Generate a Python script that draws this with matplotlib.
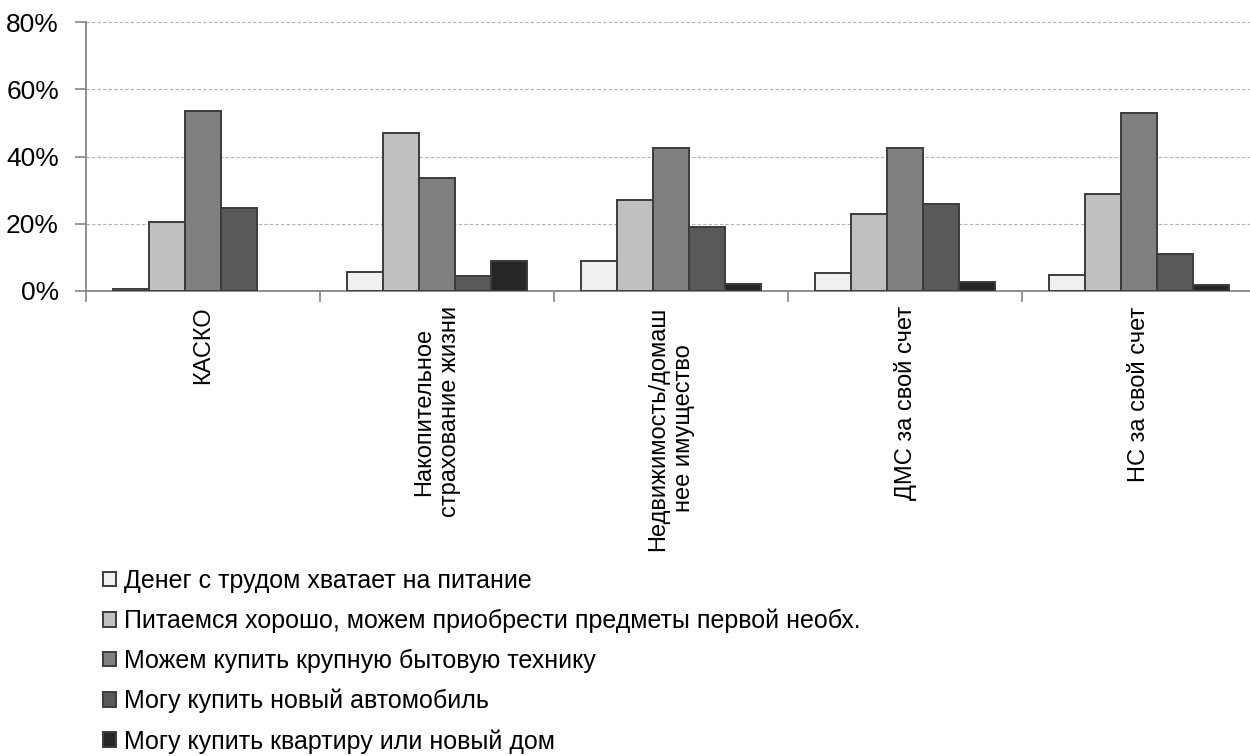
import numpy as np
import matplotlib
matplotlib.use("Agg")
import matplotlib.pyplot as plt
from matplotlib.ticker import PercentFormatter

plt.rcParams['font.family'] = ['Liberation Sans', 'DejaVu Sans']

categories = ['КАСКО', 'Накопительное\nстрахование жизни', 'Недвижимость/домаш\nнее имущество',
              'ДМС за свой счет', 'НС за свой счет']
series_names = ['Денег с трудом хватает на питание',
                'Питаемся хорошо, можем приобрести предметы первой необх.',
                'Можем купить крупную бытовую технику',
                'Могу купить новый автомобиль',
                'Могу купить квартиру или новый дом']
poor = [0.6, 5.6, 8.9, 5.4, 4.7]
food_ok = [20.6, 46.9, 27.0, 23.0, 28.7]
appliances = [53.6, 33.5, 42.4, 42.4, 53.0]
car = [24.6, 4.5, 19.0, 25.9, 11.1]
flat = [0.0, 8.9, 2.2, 2.7, 1.9]
series = [poor, food_ok, appliances, car, flat]
fills = ['#f0f0f0', '#c0c0c0', '#808080', '#595959', '#262626']

fig = plt.figure(figsize=(12.5, 7.56), dpi=100)
ax = fig.add_axes([86/1250, 1 - 291/756, 1170/1250, 269/756])

x = np.arange(len(categories))
w = 1 / 6.5
bars = []
for i, (vals, c) in enumerate(zip(series, fills)):
    b = ax.bar(x + (i - 2) * w, vals, width=w, color=c, edgecolor='#3c3c3c', linewidth=1.4, zorder=3)
    # zero-height bars are not drawn at all
    for rect, v in zip(b, vals):
        if v == 0:
            rect.set_visible(False)
    bars.append(b)

ax.set_xlim(-0.5, len(categories) - 0.5)
ax.set_ylim(0, 80)
ax.set_yticks([0, 20, 40, 60, 80])
ax.yaxis.set_major_formatter(PercentFormatter(decimals=0))
ax.grid(axis='y', color='#b0b0b0', linestyle=(0, (3, 2)), linewidth=0.8, zorder=0)

ax.set_xticks(np.arange(len(categories) + 1) - 0.5, minor=False)
ax.set_xticklabels([])
ax.set_xticks(x, minor=True)
ax.set_xticklabels(categories, minor=True, rotation=90, ha='center', va='top', fontsize=17,
                   multialignment='center')
ax.tick_params(axis='x', which='minor', length=0, pad=11)
ax.tick_params(axis='x', which='major', length=8, color='#868686', width=1.2)
ax.tick_params(axis='y', length=8, color='#868686', width=1.2, labelsize=19, pad=11.5)

for s in ['top', 'right']:
    ax.spines[s].set_visible(False)
for s in ['left', 'bottom']:
    ax.spines[s].set_color('#868686')
    ax.spines[s].set_linewidth(1.3)

fig.legend([b[1] for b in bars], series_names, loc='upper left', bbox_to_anchor=(103/1250, 1 - 569/756),
           frameon=False, fontsize=18, handlelength=0.52, handleheight=0.52, handletextpad=0.32,
           labelspacing=0.63, borderaxespad=0, borderpad=0)

plt.savefig('out.png', dpi=100)
